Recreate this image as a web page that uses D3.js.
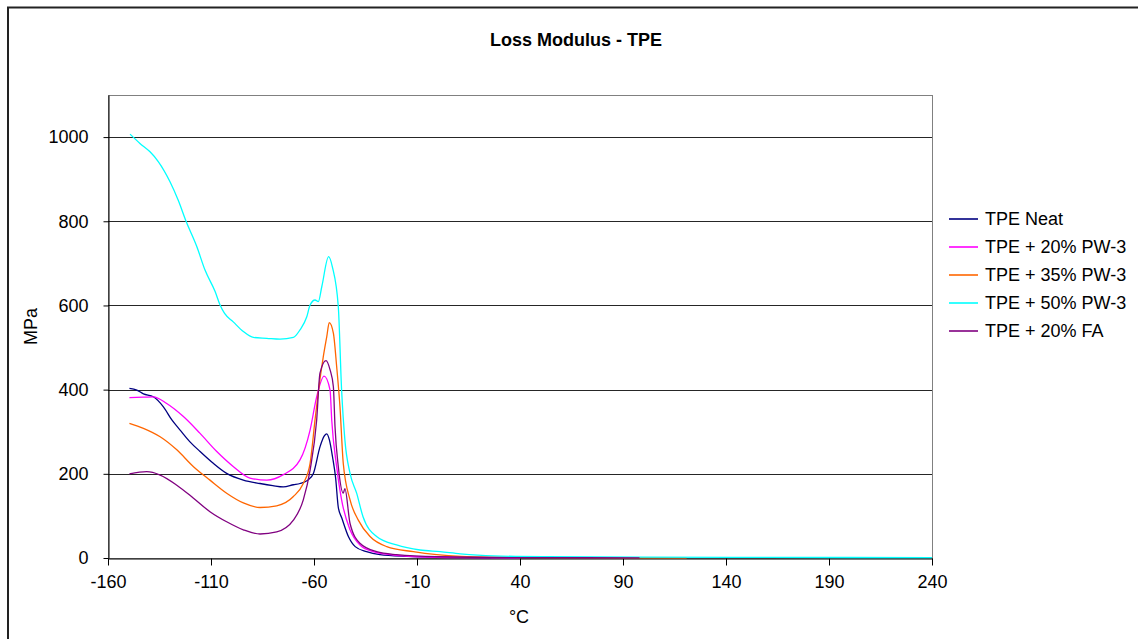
<!DOCTYPE html>
<html>
<head>
<meta charset="utf-8">
<script src="https://cdn.jsdelivr.net/npm/d3@7"></script>
<style>
  body { margin: 0; background: #fff; }
  text { font-family: "Liberation Sans", Arial, sans-serif; }
</style>
</head>
<body>
<div id="container"></div>
<script>
// temperature (°C), loss modulus (MPa)
const neat = [[-149.6,403],[-146,399],[-142.8,390],[-138,383],[-133.1,359],[-129,328],[-125,304],[-120.2,276],[-115.3,253],[-108.9,225],[-102.4,201],[-94.3,185],[-86.2,177],[-80,172],[-74.9,169],[-70,174],[-66.8,177],[-63,185],[-60.3,201],[-57.1,264],[-55,290],[-53.8,295],[-52.5,280],[-51,240],[-49.5,190],[-48.2,120],[-46.5,95],[-43.3,51],[-40,27],[-34.5,15],[-28,8],[-15,4],[0,2],[26,1]];
const pw20 = [[-149.6,381],[-143,382],[-138,383],[-131.5,367],[-123.4,336],[-115.3,296],[-107.2,253],[-99.1,217],[-91.1,190],[-82.9,185],[-74.9,198],[-66.8,233],[-61.9,304],[-58.7,383],[-55.1,432],[-52.2,399],[-51.4,328],[-49,217],[-46.6,138],[-42.5,67],[-37.7,31],[-31.2,15],[-23.1,8],[-10,3],[10,1],[40,0.5]];
const pw35 = [[-149.6,320],[-142.8,308],[-134.7,288],[-126.6,257],[-118.5,217],[-110.5,185],[-102.4,154],[-94.3,131],[-86.2,120],[-78.1,124],[-70,146],[-65.2,177],[-61.9,225],[-59.5,328],[-57.9,395],[-55.5,478],[-53.8,526],[-52.6,559],[-50.6,534],[-49,455],[-47.4,360],[-45.8,225],[-42.5,138],[-38.5,90],[-32.8,51],[-24.7,27],[-11.8,15],[-0.4,8],[25,2],[60,1],[120.9,0.5]];
const pw50 = [[-149.3,1007],[-144.5,985],[-139.6,965],[-135.6,942],[-129.9,894],[-125.9,850],[-122.1,800],[-116.9,740],[-112.9,684],[-108,633],[-105.6,601],[-103.4,581],[-99.2,561],[-94.3,538],[-89.4,524],[-82.9,522],[-76.5,520],[-70,524],[-66.8,542],[-63.5,573],[-61.9,601],[-59.5,613],[-57.9,609],[-56.2,645],[-52.9,716],[-51,690],[-48.2,597],[-46.6,399],[-45,280],[-42.5,201],[-39.3,154],[-36.2,98],[-29.6,51],[-19.9,31],[-8.5,19],[1.2,15],[11,10],[27,5],[53,3],[100,2],[160,1.5],[240,1]];
const fa20 = [[-149.6,200],[-141.2,205],[-134.7,197],[-126.6,173],[-118.5,142],[-110.5,110],[-102.4,86],[-94.3,67],[-86.2,57],[-78.1,62],[-70,90],[-65.2,138],[-61.9,209],[-58.7,328],[-57.1,439],[-54.2,469],[-52.2,447],[-50.6,407],[-49.8,312],[-48.2,217],[-45.8,154],[-45,165],[-42.5,82],[-37.7,35],[-29.6,15],[-19.9,8],[0,3],[40,1],[98,0.5]];

const seriesNames = ["TPE Neat", "TPE + 20% PW-3", "TPE + 35% PW-3", "TPE + 50% PW-3", "TPE + 20% FA"];
const seriesData = [neat, pw20, pw35, pw50, fa20];
const seriesColors = ["#000080", "#ff00ff", "#ff6600", "#00ffff", "#800080"];
const xTicks = [-160, -110, -60, -10, 40, 90, 140, 190, 240];
const yTicks = [0, 200, 400, 600, 800, 1000];

const width = 1138;
const height = 639;
const margin = ({ top: 95, right: 206, bottom: 81, left: 108 });

let svg = d3.select("#container").append("svg")
    .attr("width", width)
    .attr("height", height);

// outer chart frame (top + left edges visible)
svg.append("path")
    .attr("fill", "none")
    .attr("stroke", "#222")
    .attr("stroke-width", 2)
    .attr("d", `M8,${height}L8,7.5L${width},7.5`);

let x = d3.scaleLinear()
    .domain([-160, 240])
    .range([margin.left, width - margin.right]);

let y = d3.scaleLinear()
    .domain([0, 1100])
    .range([height - margin.bottom, margin.top]);

// plot area border
svg.append("rect")
    .attr("x", margin.left + 0.5)
    .attr("y", margin.top + 0.5)
    .attr("width", width - margin.right - margin.left)
    .attr("height", height - margin.bottom - margin.top)
    .attr("fill", "none")
    .attr("stroke", "#808080");

// horizontal grid
svg.append("g")
    .selectAll("line")
    .data(yTicks.filter(d => d > 0))
    .join("line")
    .attr("x1", margin.left)
    .attr("x2", width - margin.right)
    .attr("y1", d => Math.round(y(d)) + 0.5)
    .attr("y2", d => Math.round(y(d)) + 0.5)
    .attr("stroke", "#000")
    .attr("stroke-opacity", 0.85);

const plain = d => String(d);

let xAxis = g => g
    .attr("transform", `translate(0,${height - margin.bottom + 0.5})`)
    .call(d3.axisBottom(x).tickValues(xTicks).tickFormat(plain).tickSize(7).tickSizeOuter(0).tickPadding(10))
    .call(g => g.select(".domain").attr("stroke", "#000"));

let yAxis = g => g
    .attr("transform", `translate(${margin.left + 0.5},0)`)
    .call(d3.axisLeft(y).tickValues(yTicks).tickFormat(plain).tickSize(5).tickSizeOuter(0).tickPadding(15))
    .call(g => g.select(".domain").attr("stroke", "#000"));

svg.append("g").call(xAxis)
    .selectAll("text")
    .attr("font-size", 18)
    .attr("font-family", "Liberation Sans, Arial, sans-serif")
    .attr("fill", "#000");

svg.append("g").call(yAxis)
    .selectAll("text")
    .attr("font-size", 18)
    .attr("font-family", "Liberation Sans, Arial, sans-serif")
    .attr("fill", "#000");

let line = d3.line()
    .curve(d3.curveMonotoneX)
    .x(d => x(d[0]))
    .y(d => y(d[1]));

svg.append("g")
    .selectAll("path")
    .data(seriesData)
    .join("path")
    .attr("fill", "none")
    .attr("stroke", (d, i) => seriesColors[i])
    .attr("stroke-width", 1.3)
    .attr("stroke-linejoin", "round")
    .attr("d", line);

// title and axis labels
svg.append("text")
    .attr("x", 576)
    .attr("y", 46)
    .attr("text-anchor", "middle")
    .attr("font-size", 18)
    .attr("font-weight", "bold")
    .text("Loss Modulus - TPE");

svg.append("text")
    .attr("x", x(40) - 1)
    .attr("y", 623)
    .attr("text-anchor", "middle")
    .attr("font-size", 18)
    .text("°C");

svg.append("text")
    .attr("transform", `translate(37,${(margin.top + height - margin.bottom) / 2}) rotate(-90)`)
    .attr("text-anchor", "middle")
    .attr("font-size", 18)
    .text("MPa");

// legend
let legend = svg.append("g")
    .selectAll("g")
    .data(seriesNames)
    .join("g")
    .attr("transform", (d, i) => `translate(949,${219 + i * 28})`);

legend.append("line")
    .attr("x1", 0)
    .attr("x2", 29)
    .attr("stroke", (d, i) => seriesColors[i])
    .attr("stroke-width", 1.6);

legend.append("text")
    .attr("x", 36)
    .attr("dy", "0.35em")
    .attr("font-size", 18)
    .text(d => d);
</script>
</body>
</html>
